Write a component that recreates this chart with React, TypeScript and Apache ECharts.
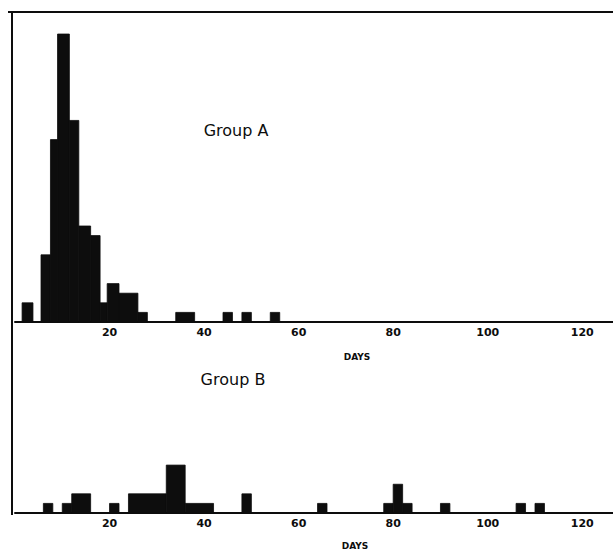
import React, { useEffect, useRef } from "react";
import * as echarts from "echarts";

// Group A histogram: bin start (days), bin end (days), count
const groupAStart = [1.5, 5.5, 7.5, 9, 11.5, 13.5, 16, 18, 19.5, 22, 26, 34, 44, 48, 54];
const groupAEnd = [3.8, 7.5, 9, 11.5, 13.5, 16, 18, 19.5, 22, 26, 28, 38, 46, 50, 56];
const groupACount = [2, 7, 19, 30, 21, 10, 9, 2, 4, 3, 1, 1, 1, 1, 1];

// Group B histogram
const groupBStart = [6, 10, 12, 20, 24, 32, 36, 48, 64, 78, 80, 82, 90, 106, 110];
const groupBEnd = [8, 12, 16, 22, 32, 36, 42, 50, 66, 80, 82, 84, 92, 108, 112];
const groupBCount = [1, 1, 2, 1, 2, 5, 1, 2, 1, 1, 3, 1, 1, 1, 1];

const xTicks = [20, 40, 60, 80, 100, 120];
const panelLabels = ["Group A", "Group B"];
const axisTitle = "DAYS";

const INK = "#0d0d0d";

function renderBar(params: any, api: any) {
  const start = api.value(0);
  const end = api.value(1);
  const count = api.value(2);
  const p0 = api.coord([start, count]);
  const p1 = api.coord([end, 0]);
  return {
    type: "rect",
    shape: {
      x: p0[0],
      y: p0[1],
      width: p1[0] - p0[0],
      height: p1[1] - p0[1],
    },
    style: { fill: INK, stroke: INK, lineWidth: 0.8 },
  };
}

export default function App() {
  const ref = useRef<HTMLDivElement>(null);
  useEffect(() => {
    if (!ref.current) return;
    const chart = echarts.init(ref.current, undefined, { renderer: "svg" });
    const dataA = groupAStart.map((s, i) => [s, groupAEnd[i], groupACount[i]]);
    const dataB = groupBStart.map((s, i) => [s, groupBEnd[i], groupBCount[i]]);
    const xAxisCommon = {
      type: "value",
      min: 0,
      max: 126.5,
      interval: 20,
      axisLine: { show: true, lineStyle: { color: INK, width: 2 } },
      axisTick: { show: false },
      splitLine: { show: false },
      axisLabel: {
        margin: 5,
        color: INK,
        fontFamily: "DejaVu Sans",
        fontWeight: "bold",
        fontSize: 11,
        showMaxLabel: false,
        formatter: (v: number) => (xTicks.includes(v) ? String(v) : ""),
      },
    };
    chart.setOption({
      animation: false,
      backgroundColor: "#ffffff",
      grid: [
        { left: 15, right: 0, top: 11, bottom: 229 },
        { left: 15, right: 0, top: 330, bottom: 38 },
      ],
      xAxis: [
        { ...xAxisCommon, gridIndex: 0 },
        { ...xAxisCommon, gridIndex: 1 },
      ],
      yAxis: [
        { type: "value", gridIndex: 0, min: 0, max: 32.4, show: false },
        { type: "value", gridIndex: 1, min: 0, max: 19.1, show: false },
      ],
      series: [
        {
          type: "custom",
          xAxisIndex: 0,
          yAxisIndex: 0,
          renderItem: renderBar,
          encode: { x: [0, 1], y: 2 },
          data: dataA,
        },
        {
          type: "custom",
          xAxisIndex: 1,
          yAxisIndex: 1,
          renderItem: renderBar,
          encode: { x: [0, 1], y: 2 },
          data: dataB,
        },
      ],
      graphic: [
        { type: "line", shape: { x1: 8, y1: 12, x2: 613, y2: 12 }, style: { stroke: INK, lineWidth: 2 } },
        { type: "line", shape: { x1: 12, y1: 11, x2: 12, y2: 515 }, style: { stroke: INK, lineWidth: 2 } },
        {
          type: "text",
          x: 236,
          y: 130,
          style: {
            text: panelLabels[0],
            fill: INK,
            font: "16px 'DejaVu Sans'",
            align: "center",
            verticalAlign: "middle",
          },
        },
        {
          type: "text",
          x: 233,
          y: 379,
          style: {
            text: panelLabels[1],
            fill: INK,
            font: "16px 'DejaVu Sans'",
            align: "center",
            verticalAlign: "middle",
          },
        },
        {
          type: "text",
          x: 357,
          y: 357,
          style: {
            text: axisTitle,
            fill: INK,
            font: "bold 9px 'DejaVu Sans'",
            align: "center",
            verticalAlign: "middle",
          },
        },
        {
          type: "text",
          x: 355,
          y: 546,
          style: {
            text: axisTitle,
            fill: INK,
            font: "bold 9px 'DejaVu Sans'",
            align: "center",
            verticalAlign: "middle",
          },
        },
      ],
    });
    return () => chart.dispose();
  }, []);
  return (
    <div
      ref={ref}
      style={{ position: "fixed", left: 0, top: 0, width: 613, height: 551 }}
    />
  );
}
